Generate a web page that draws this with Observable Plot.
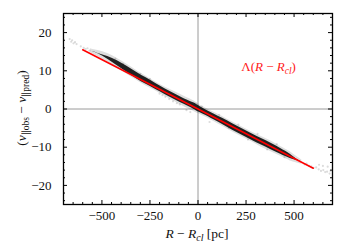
<!DOCTYPE html>
<html><head><meta charset="utf-8">
<script src="https://cdn.jsdelivr.net/npm/d3@7"></script>
<script src="https://cdn.jsdelivr.net/npm/@observablehq/plot@0.6"></script>
<style>body{margin:0;background:#fff} svg text{font-family:"Liberation Serif","Times New Roman",serif !important;}</style>
</head><body><div id="chart"></div>
<script>
// ticks
const xMajor = [-500, -250, 0, 250, 500];
const xMinor = [-650,-600,-550,-450,-400,-350,-300,-200,-150,-100,-50,50,100,150,200,300,350,400,450,550,600,650];
const yMajor = [-20, -10, 0, 10, 20];
const yMinor = [-24,-22,-18,-16,-14,-12,-8,-6,-4,-2,2,4,6,8,12,14,16,18,22,24];

const bandX   = [-560,-520,-470,-420,-370,-320,-270,-220,-170,-120,-70,-20,0,30,80,130,180,230,280,330,380,430,480,510,540];
const bandMid = [15.3,14.5,13.4,12.0,10.4,8.8,7.3,5.9,4.5,3.2,1.9,0.7,0.1,-0.7,-2.0,-3.3,-4.7,-6.0,-7.3,-8.6,-9.8,-11.1,-12.4,-13.2,-13.9];
const bandDark = [0,0.05,0.35,0.65,0.8,0.85,0.85,0.8,0.75,0.75,0.75,0.85,0.85,0.75,0.75,0.8,0.85,0.85,0.85,0.85,0.85,0.75,0.55,0.2,0];
const bandLight = [0.5,0.8,1.1,1.2,1.3,1.3,1.3,1.2,1.2,1.3,1.4,1.4,1.3,1.2,1.2,1.3,1.3,1.3,1.3,1.4,1.4,1.3,1.2,0.9,0.6];

// sparse scattered observations
const scatX = [-668,-660,-655,-648,-640,-632,-610,-595,-585,-575,-565,
  -430,-390,-350,-300,-250,-200,-185,-170,-150,-130,-110,-95,-60,-40,-10,20,60,110,160,210,260,310,360,410,450,
  555,565,578,590,602,615,628,640,652,662,672,685,630,650,675,690];
const scatY = [18.3,17.6,18.0,17.2,17.5,17.0,16.4,16.0,15.7,15.9,15.3,
  13.2,11.8,10.2,9.2,7.9,4.0,3.6,3.2,2.6,2.0,1.5,1.2,-0.3,-0.8,1.4,0.6,-3.4,-1.5,-5.0,-4.1,-8.0,-6.5,-10.6,-9.2,-12.6,
  -14.5,-14.3,-14.9,-15.0,-15.4,-15.3,-15.8,-16.2,-16.0,-16.5,-16.4,-16.9,-14.6,-14.9,-15.1,-16.2];

// model line
const modelX = [-600, 600];
const modelY = [15.5, -15.5];

const band = bandX.map((x,i)=>({x, mid: bandMid[i], d: bandDark[i], l: bandLight[i]}));
const scat = scatX.map((x,i)=>({x, y: scatY[i]}));
const model = modelX.map((x,i)=>({x, y: modelY[i]}));

const xL = 1400/269, yL = 50/191; // data units per pixel
const tk = (vals, major) => vals.map(v => ({v, len: major ? 4 : 2}));
const xt = [...tk(xMajor,true), ...tk(xMinor,false)];
const yt = [...tk(yMajor,true), ...tk(yMinor,false)];

const plot = Plot.plot({
  width: 350, height: 250,
  marginLeft: 63, marginRight: 18, marginTop: 13, marginBottom: 46,
  style: {fontSize: "13px", color: "#111", background: "#fff"},
  x: {domain: [-700, 700]},
  y: {domain: [-25, 25]},
  marks: [
    Plot.ruleX([0], {stroke: "#9a9a9a", strokeWidth: 1}),
    Plot.ruleY([0], {stroke: "#9a9a9a", strokeWidth: 1}),
    Plot.areaY(band, {x: "x", y1: d => d.mid - d.l, y2: d => d.mid + d.l, fill: "#000", fillOpacity: 0.13, curve: "catmull-rom"}),
    Plot.areaY(band, {x: "x", y1: d => d.mid - d.d, y2: d => d.mid + d.d, fill: "#000", fillOpacity: 0.85, curve: "catmull-rom"}),
    Plot.dot(scat, {x: "x", y: "y", r: 1.1, fill: "#000", fillOpacity: 0.14, stroke: "none"}),
    Plot.line(model, {x: "x", y: "y", stroke: "#ff0000", strokeWidth: 1.6}),
    // inward ticks on all four sides
    Plot.ruleX(xt, {x: "v", y1: -25, y2: d => -25 + d.len*yL, stroke: "#000", strokeWidth: 1}),
    Plot.ruleX(xt, {x: "v", y1: 25, y2: d => 25 - d.len*yL, stroke: "#000", strokeWidth: 1}),
    Plot.ruleY(yt, {y: "v", x1: -700, x2: d => -700 + d.len*xL, stroke: "#000", strokeWidth: 1}),
    Plot.ruleY(yt, {y: "v", x1: 700, x2: d => 700 - d.len*xL, stroke: "#000", strokeWidth: 1}),
    Plot.axisX(xMajor, {tickSize: 0, tickPadding: 6, label: null}),
    Plot.axisY(yMajor, {tickSize: 0, tickPadding: 12, label: null}),
    Plot.frame({stroke: "#000", strokeWidth: 1.3})
  ]
});
document.getElementById("chart").append(plot);

const svg = d3.select(plot);
const sx = plot.scale("x"), sy = plot.scale("y");
// x label
const xl = svg.append("text").attr("x", 197).attr("y", 238).attr("text-anchor", "middle")
  .attr("font-size", 13.5).attr("fill", "#111");
xl.append("tspan").attr("font-style", "italic").text("R");
xl.append("tspan").text(" − ");
xl.append("tspan").attr("font-style", "italic").text("R");
xl.append("tspan").attr("font-style", "italic").attr("font-size", 10).attr("dy", 2.5).text("cl");
xl.append("tspan").attr("dy", -2.5).text(" [pc]");
// y label
const yl = svg.append("text").attr("transform", "translate(26,108) rotate(-90)").attr("text-anchor", "middle")
  .attr("font-size", 13.5).attr("fill", "#111");
yl.append("tspan").text("(");
yl.append("tspan").attr("font-style", "italic").text("v");
yl.append("tspan").attr("font-size", 9.5).attr("dy", 2.5).text("∥obs");
yl.append("tspan").attr("dy", -2.5).text(" − ");
yl.append("tspan").attr("font-style", "italic").text("v");
yl.append("tspan").attr("font-size", 9.5).attr("dy", 2.5).text("∥pred");
yl.append("tspan").attr("dy", -2.5).text(")");
// annotation
const an = svg.append("text").attr("x", sx.apply(370)).attr("y", sy.apply(9.8)).attr("text-anchor", "middle")
  .attr("font-size", 13).attr("fill", "#ff2020");
an.append("tspan").text("Λ(");
an.append("tspan").attr("font-style", "italic").text("R");
an.append("tspan").text(" − ");
an.append("tspan").attr("font-style", "italic").text("R");
an.append("tspan").attr("font-style", "italic").attr("font-size", 9.5).attr("dy", 2.5).text("cl");
an.append("tspan").attr("dy", -2.5).text(")");
</script>
</body></html>
